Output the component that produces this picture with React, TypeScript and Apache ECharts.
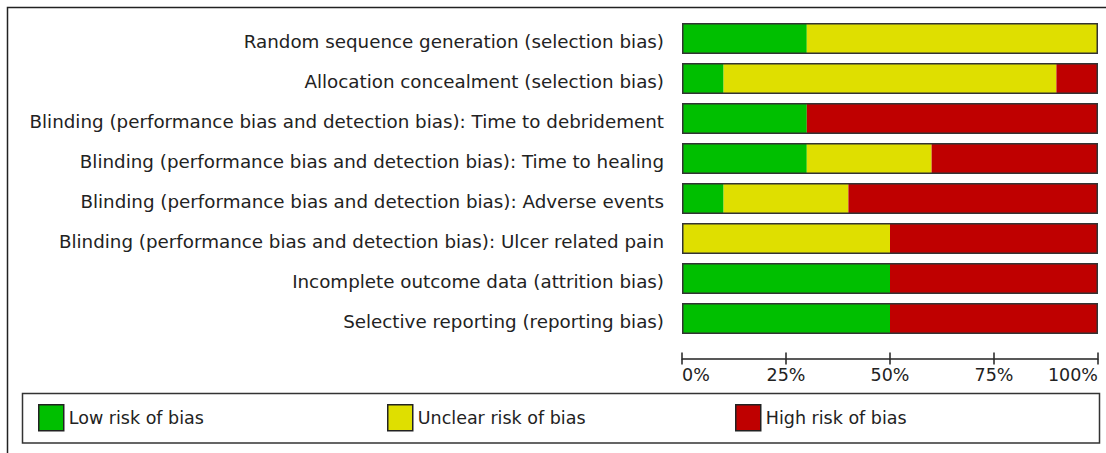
import React, { useEffect, useRef } from "react";
import * as echarts from "echarts";

const categories = [
  "Random sequence generation (selection bias)",
  "Allocation concealment (selection bias)",
  "Blinding (performance bias and detection bias): Time to debridement",
  "Blinding (performance bias and detection bias): Time to healing",
  "Blinding (performance bias and detection bias): Adverse events",
  "Blinding (performance bias and detection bias): Ulcer related pain",
  "Incomplete outcome data (attrition bias)",
  "Selective reporting (reporting bias)",
];
const lowRisk = [30, 10, 30, 30, 10, 0, 50, 50];
const unclearRisk = [70, 80, 0, 30, 30, 50, 0, 0];
const highRisk = [0, 10, 70, 40, 60, 50, 50, 50];
const totals = [100, 100, 100, 100, 100, 100, 100, 100];
const seriesNames = ["Low risk of bias", "Unclear risk of bias", "High risk of bias"];
const seriesColors = ["#00bf00", "#dfdf00", "#bf0000"];
const tickValues = [0, 25, 50, 75, 100];
const legendLefts = [38, 387, 735];

const FONT = "DejaVu Sans";

export default function App() {
  const ref = useRef<HTMLDivElement>(null);
  useEffect(() => {
    if (!ref.current) return;
    const chart = echarts.init(ref.current, null, { renderer: "svg" });
    const valueSets = [lowRisk, unclearRisk, highRisk];
    const axisCommon = {
      type: "value" as const,
      min: 0,
      max: 100,
      interval: 25,
      splitLine: { show: false },
    };
    chart.setOption({
      animation: false,
      backgroundColor: "#ffffff",
      grid: { left: 682, right: 8, top: 18.5, bottom: 453 - 338.5, containLabel: false },
      xAxis: [
        {
          ...axisCommon,
          position: "bottom",
          offset: 20,
          axisLine: { show: true, lineStyle: { color: "#222", width: 1.5 } },
          axisTick: { show: true, length: 6, lineStyle: { color: "#222", width: 1.5 } },
          axisLabel: {
            show: true,
            color: "#222",
            fontFamily: FONT,
            fontSize: 17.5,
            margin: 7,
            alignMinLabel: "left",
            alignMaxLabel: "right",
            formatter: (v: number) => (tickValues.includes(v) ? v + "%" : ""),
          },
        },
        {
          ...axisCommon,
          position: "bottom",
          offset: 20,
          axisLine: { show: false },
          axisTick: { show: true, inside: true, length: 6, lineStyle: { color: "#222", width: 1.5 } },
          axisLabel: { show: false },
        },
      ],
      yAxis: {
        type: "category",
        data: categories,
        inverse: true,
        axisLine: { show: false },
        axisTick: { show: false },
        axisLabel: {
          color: "#222",
          fontFamily: FONT,
          fontSize: 18.3,
          margin: 18,
          formatter: (v: string) => "{t|" + v + "}",
          rich: {
            t: {
              color: "#222",
              fontFamily: FONT,
              fontSize: 18.3,
              padding: [6, 0, 0, 0],
            },
          },
        },
      },
      legend: seriesNames.map((name, i) => ({
        left: legendLefts[i],
        top: 404,
        padding: 0,
        orient: "horizontal",
        icon: "rect",
        itemWidth: 25,
        itemHeight: 26,
        itemGap: 0,
        data: [name],
        selectedMode: false,
        itemStyle: { borderColor: "#222", borderWidth: 1.5 },
        textStyle: { color: "#222", fontFamily: FONT, fontSize: 17.5 },
      })),
      graphic: [
        {
          type: "rect",
          shape: { x: 7.5, y: 7.5, width: 1110, height: 470 },
          style: { fill: "none", stroke: "#222", lineWidth: 1.5 },
          silent: true,
        },
        {
          type: "rect",
          shape: { x: 22.5, y: 393.5, width: 1077, height: 49.5 },
          style: { fill: "none", stroke: "#333", lineWidth: 1.5 },
          silent: true,
        },
      ],
      series: [
        ...valueSets.map((vals, i) => ({
          type: "bar",
          name: seriesNames[i],
          stack: "risk",
          data: vals,
          barWidth: 31,
          itemStyle: { color: seriesColors[i] },
        })),
        {
          type: "bar",
          name: "outline",
          data: totals,
          barWidth: 31,
          barGap: "-100%",
          z: 5,
          itemStyle: { color: "rgba(0,0,0,0)", borderColor: "#333", borderWidth: 1.5 },
          silent: true,
        },
      ],
    });
    return () => chart.dispose();
  }, []);
  return (
    <div
      ref={ref}
      style={{ position: "fixed", left: 0, top: 0, width: 1106, height: 453 }}
    />
  );
}
